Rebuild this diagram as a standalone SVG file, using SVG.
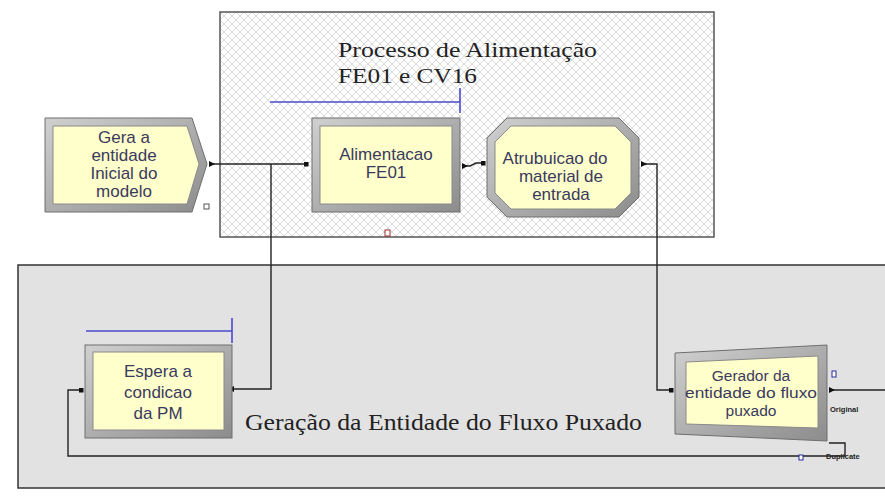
<svg xmlns="http://www.w3.org/2000/svg" width="885" height="502" viewBox="0 0 885 502">
<style>
.lbl{font-family:"Liberation Sans",Arial,sans-serif;font-size:17px;fill:#3a3a5e;text-anchor:middle}
.sm{font-size:15.5px}
.ttl{font-family:"Liberation Serif","Times New Roman",serif;fill:#222}
.tiny{font-family:"Liberation Sans",Arial,sans-serif;font-size:7.5px;font-weight:bold;fill:#222}
.bev{fill:url(#bevel);stroke:#6e6e6e;stroke-width:1}
.inner{fill:#ffffcc;stroke:#8a8a8a;stroke-width:1}
.con{fill:none;stroke:#222;stroke-width:1.4}
.q{fill:none;stroke:#4a4ad0;stroke-width:1.6}
</style>
<defs>
<pattern id="hatch" width="8" height="8" patternUnits="userSpaceOnUse">
<rect width="8" height="8" fill="#ffffff"/>
<path d="M0,0 L8,8 M8,0 L0,8" stroke="#dadada" stroke-width="1"/>
</pattern>
<linearGradient id="bevel" x1="0" y1="0" x2="1" y2="1">
<stop offset="0" stop-color="#d0d0d0"/>
<stop offset="1" stop-color="#8c8c8c"/>
</linearGradient>
<marker id="sq" markerWidth="5" markerHeight="5" refX="4.5" refY="2.5" orient="auto" markerUnits="userSpaceOnUse">
<rect x="0" y="0" width="5" height="5" fill="#111"/>
</marker>
<marker id="tri" markerWidth="6" markerHeight="6" refX="0" refY="3" orient="auto" markerUnits="userSpaceOnUse">
<path d="M0,0 L6,3 L0,6 Z" fill="#111"/>
</marker>
</defs>
<rect width="885" height="502" fill="#ffffff"/>
<g id="area-top">
<rect x="220" y="12" width="494" height="225" fill="url(#hatch)" stroke="#555" stroke-width="1.5"/>
<text class="ttl" x="338" y="57" font-size="22" textLength="259" lengthAdjust="spacingAndGlyphs">Processo de Alimentação</text>
<text class="ttl" x="338" y="83" font-size="22" textLength="139" lengthAdjust="spacingAndGlyphs">FE01 e CV16</text>
<rect x="385" y="230" width="5" height="6" fill="#fff" stroke="#a03030" stroke-width="1"/>
</g>
<g id="area-bottom">
<rect x="18" y="265" width="880" height="223" fill="#e2e2e2" stroke="#333" stroke-width="1.5"/>
<text class="ttl" x="245" y="430" font-size="23" textLength="397" lengthAdjust="spacingAndGlyphs">Geração da Entidade do Fluxo Puxado</text>
</g>
<g id="connectors">
<path class="con" d="M209,164 H308" marker-start="url(#tri)" marker-end="url(#sq)"/>
<path class="con" d="M271,164 V389 H234" marker-end="url(#tri)"/>
<path class="con" d="M462,166 H470 L476,163 H485" marker-start="url(#tri)" marker-end="url(#sq)"/>
<path class="con" d="M641,164 H657 V390 H673" marker-start="url(#tri)" marker-end="url(#sq)"/>
<path class="con" d="M829,390 H885" marker-start="url(#tri)"/>
<path class="con" d="M829,443 H845 V456 H68 V390 H83" marker-end="url(#sq)"/>
</g>
<g id="node-gera">
<polygon class="bev" points="45,118 192,118 207,164 192,212 45,212"/>
<polygon class="inner" points="53,126 187,126 199,164 187,204 53,204"/>
<text class="lbl" x="124" y="143">Gera a</text>
<text class="lbl" x="124" y="161">entidade</text>
<text class="lbl" x="124" y="179">Inicial do</text>
<text class="lbl" x="124" y="197">modelo</text>
<rect x="204" y="204" width="5" height="5" fill="#fff" stroke="#555" stroke-width="1"/>
</g>
<g id="node-alimentacao">
<path class="q" d="M270,102 H460 M460,88 V113"/>
<rect class="bev" x="312" y="118" width="148" height="94"/>
<rect class="inner" x="320" y="126" width="132" height="78"/>
<text class="lbl" x="386" y="160">Alimentacao</text>
<text class="lbl" x="386" y="178">FE01</text>
</g>
<g id="node-atrubuicao">
<polygon class="bev" points="507,118 619,118 639,138 639,197 619,217 507,217 487,197 487,138"/>
<polygon class="inner" points="511,126 615,126 631,142 631,193 615,209 511,209 495,193 495,142"/>
<text class="lbl" x="555" y="164">Atrubuicao do</text>
<text class="lbl" x="561" y="182">material de</text>
<text class="lbl" x="561" y="200">entrada</text>
</g>
<g id="node-espera">
<path class="q" d="M86,331 H232 M232,318 V343"/>
<rect class="bev" x="85" y="345" width="147" height="93"/>
<rect class="inner" x="93" y="352" width="131" height="78"/>
<text class="lbl" x="158" y="377">Espera a</text>
<text class="lbl" x="158" y="398">condicao</text>
<text class="lbl" x="158" y="419">da PM</text>
</g>
<g id="node-gerador">
<polygon class="bev" points="675,353 827,345 827,441 675,434"/>
<polygon class="inner" points="686,362 818,356 818,428 686,424"/>
<text class="lbl sm" x="751" y="381">Gerador da</text>
<text class="lbl sm" x="751" y="398" textLength="132" lengthAdjust="spacingAndGlyphs">entidade do fluxo</text>
<text class="lbl sm" x="751" y="416">puxado</text>
<rect x="832" y="371" width="4" height="6" fill="#fff" stroke="#2a2a9a" stroke-width="1"/>
<rect x="799" y="455" width="4" height="5" fill="#fff" stroke="#2a2a9a" stroke-width="1"/>
<text class="tiny" x="830" y="412">Original</text>
<text class="tiny" x="826" y="459">Duplicate</text>
</g>
</svg>
